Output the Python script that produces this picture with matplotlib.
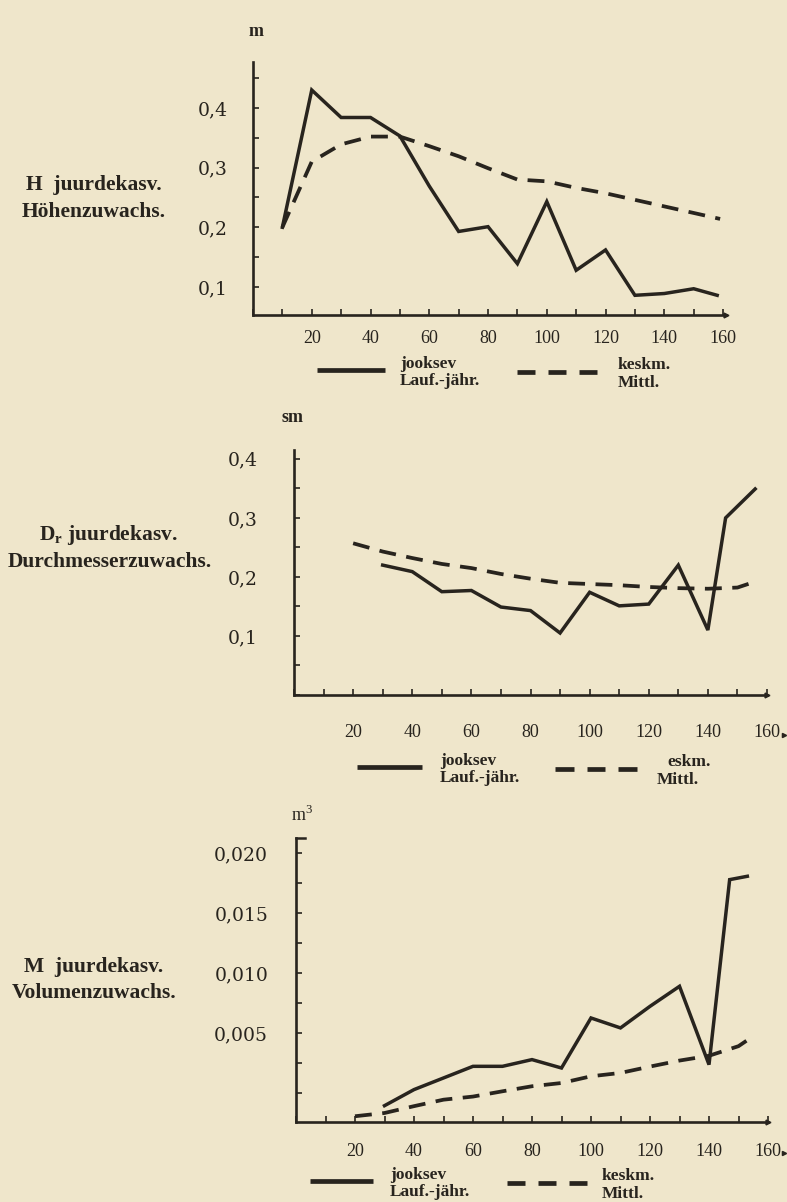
import matplotlib
matplotlib.use('Agg')
import matplotlib.pyplot as plt
from matplotlib.ticker import MultipleLocator, FixedLocator, FuncFormatter

plt.rcParams['font.family'] = ['Liberation Serif', 'DejaVu Serif']
plt.rcParams['mathtext.fontset'] = 'custom'
plt.rcParams['mathtext.rm'] = 'Liberation Serif'
plt.rcParams['mathtext.bf'] = 'Liberation Serif:bold'

# ── data ──
H_AGE_CUR = [10, 20, 30, 40, 50, 60, 70, 80, 90, 100, 110, 120, 130, 140, 150, 158]
H_CUR = [0.20, 0.43, 0.384, 0.384, 0.353, 0.269, 0.193, 0.201, 0.139, 0.243,
         0.128, 0.162, 0.086, 0.089, 0.097, 0.086]
H_AGE_MEAN = [10, 20, 30, 40, 50, 60, 70, 80, 90, 100, 110, 120, 130, 140, 150, 159]
H_MEAN = [0.20, 0.31, 0.339, 0.352, 0.352, 0.336, 0.319, 0.299, 0.28, 0.277,
          0.266, 0.257, 0.246, 0.235, 0.224, 0.214]

D_AGE_CUR = [30, 40, 50, 60, 70, 80, 90, 100, 110, 120, 130, 140, 146, 156]
D_CUR = [0.22, 0.209, 0.175, 0.177, 0.149, 0.143, 0.105, 0.174, 0.151, 0.154,
         0.22, 0.11, 0.30, 0.349]
D_AGE_MEAN = [20, 30, 40, 50, 60, 70, 80, 90, 100, 110, 120, 130, 140, 150, 156]
D_MEAN = [0.257, 0.243, 0.232, 0.222, 0.215, 0.205, 0.197, 0.19, 0.188, 0.186,
          0.183, 0.181, 0.18, 0.182, 0.192]

M_AGE_CUR = [30, 40, 50, 60, 70, 80, 90, 100, 110, 120, 130, 140, 147, 153]
M_CUR = [-0.00106, 0.00028, 0.00125, 0.00222, 0.00222, 0.00278, 0.00208, 0.00625,
         0.00542, 0.00722, 0.00889, 0.00236, 0.01778, 0.01806]
M_AGE_MEAN = [20, 30, 40, 50, 60, 70, 80, 90, 100, 110, 120, 130, 140, 150, 153]
M_MEAN = [-0.00194, -0.00167, -0.0011, -0.00056, -0.0003, 0.00014, 0.00056, 0.00083,
          0.00139, 0.00167, 0.0022, 0.0027, 0.0031, 0.0039, 0.0044]

X_TICKS = [20, 40, 60, 80, 100, 120, 140, 160]
H_YTICKS = [0.1, 0.2, 0.3, 0.4]
D_YTICKS = [0.1, 0.2, 0.3, 0.4]
M_YTICKS = [0.005, 0.010, 0.015, 0.020]

PAPER = '#efe6cb'
INK = '#28241e'
W, H = 787, 1202

fig = plt.figure(figsize=(W / 100, H / 100), dpi=100)
fig.patch.set_facecolor(PAPER)

# overlay in pixel coordinates for free text and legend keys
cv = fig.add_axes([0, 0, 1, 1], zorder=0)
cv.set_xlim(0, W)
cv.set_ylim(H, 0)
cv.axis('off')


def px_axes(left, top, right, bottom):
    ax = fig.add_axes([left / W, 1 - bottom / H, (right - left) / W, (bottom - top) / H],
                      zorder=2)
    ax.patch.set_alpha(0)
    for s in ('top', 'right'):
        ax.spines[s].set_visible(False)
    for s in ('left', 'bottom'):
        ax.spines[s].set_linewidth(1.9)
        ax.spines[s].set_color(INK)
    ax.plot(1, 0, '>', transform=ax.transAxes, clip_on=False, ms=3.5, color=INK)
    return ax


def style(ax, yticks, ydec, ypad, xpad, xlim, ylim, yminor):
    ax.set_xlim(*xlim)
    ax.set_ylim(*ylim)
    ax.xaxis.set_major_locator(FixedLocator(X_TICKS))
    ax.xaxis.set_minor_locator(MultipleLocator(10))
    ax.yaxis.set_major_locator(FixedLocator(yticks))
    ax.yaxis.set_minor_locator(MultipleLocator(yminor))
    ax.yaxis.set_major_formatter(FuncFormatter(
        lambda v, p: f'{v:.{ydec}f}'.replace('.', ',')))
    ax.tick_params(which='both', direction='in', color=INK, width=1.2, length=4)
    ax.tick_params(axis='y', pad=ypad, labelsize=13.5, labelcolor=INK)
    ax.tick_params(axis='x', pad=xpad, labelsize=13, labelcolor=INK)
    for lab in ax.get_yticklabels():
        lab.set_fontfamily('DejaVu Serif')


def curves(ax, xc, yc, xm, ym):
    ax.plot(xc, yc, color=INK, lw=2.5, solid_joinstyle='miter', clip_on=False)
    ax.plot(xm, ym, color=INK, lw=2.7, ls=(0, (4.5, 2.8)), clip_on=False)


def legend(y, x_solid, x_txt1, x_dash, x_txt2, word2):
    cv.plot(x_solid, [y, y], color=INK, lw=3.4, solid_capstyle='butt')
    # three dashes, as drawn in the key
    x0, x1 = x_dash
    seg = (x1 - x0) * 0.23
    step = (x1 - x0 - seg) / 2
    for k in range(3):
        a = x0 + k * step
        cv.plot([a, a + seg], [y + 2, y + 2], color=INK, lw=3.4, solid_capstyle='butt')
    kw = dict(fontsize=12.5, fontweight='bold', color=INK, ha='left', va='center')
    cv.text(x_txt1, y - 6, 'jooksev', **kw)
    cv.text(x_txt1, y + 11, 'Lauf.-jähr.', **kw)
    cv.text(x_txt2[0], y - 5, word2, **kw)
    cv.text(x_txt2[1], y + 13, 'Mittl.', **kw)


tkw = dict(fontsize=15.5, fontweight='bold', color=INK, ha='center', va='center')

# ── Panel 1: height increment ──
ax1 = px_axes(253, 62, 726, 315)
style(ax1, H_YTICKS, 1, 18, 11, (0, 161), (0.053, 0.477), 0.05)
curves(ax1, H_AGE_CUR, H_CUR, H_AGE_MEAN, H_MEAN)
cv.text(256, 32, 'm', fontsize=13, fontweight='bold', color=INK, ha='center', va='center')
cv.text(94, 185, 'H  juurdekasv.', **tkw)
cv.text(94, 212, 'Höhenzuwachs.', **tkw)
legend(370, [317, 385], 400, [517, 597], (618, 618), 'keskm.')

# ── Panel 2: diameter increment ──
ax2 = px_axes(294, 450, 767, 695)
style(ax2, D_YTICKS, 1, 26, 21, (0, 160), (0, 0.415), 0.05)
curves(ax2, D_AGE_CUR, D_CUR, D_AGE_MEAN, D_MEAN)
cv.text(293, 418, 'sm', fontsize=13, fontweight='bold', color=INK, ha='center', va='center')
cv.text(108, 535, r'$\mathbf{D}_{\mathbf{r}}$ juurdekasv.', **tkw)
cv.text(110, 562, 'Durchmesserzuwachs.', **tkw)
cv.plot([784], [735], '>', ms=3, color=INK)
legend(767, [357, 422], 440, [555, 637], (667, 657), 'eskm.')

# ── Panel 3: volume increment ──
ax3 = px_axes(296, 838, 768, 1122)
style(ax3, M_YTICKS, 3, 20, 15, (0, 160), (-0.00242, 0.02125), 0.0025)
curves(ax3, M_AGE_CUR, M_CUR, M_AGE_MEAN, M_MEAN)
ax3.plot([0, 3], [0.02125, 0.02125], color=INK, lw=1.8, clip_on=False)
cv.text(302, 815, r'm$^3$', fontsize=13, color=INK, ha='center', va='center')
cv.text(94, 967, 'M  juurdekasv.', **tkw)
cv.text(94, 993, 'Volumenzuwachs.', **tkw)
cv.plot([784], [1153], '>', ms=3, color=INK)
legend(1181, [310, 373], 390, [507, 587], (602, 602), 'keskm.')

fig.savefig('out.png', dpi=100, facecolor=PAPER)
